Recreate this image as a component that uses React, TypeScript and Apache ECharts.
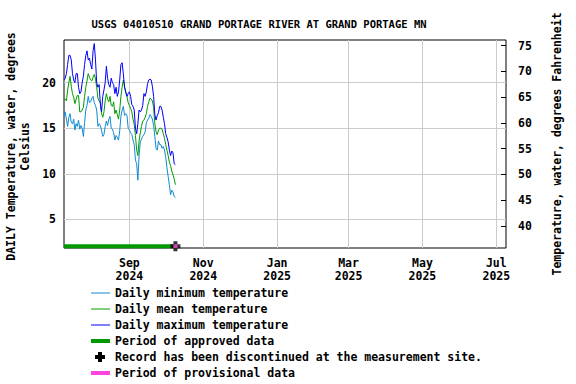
import React, { useEffect, useRef } from "react";
import * as echarts from "echarts";

const TITLE = "USGS 04010510 GRAND PORTAGE RIVER AT GRAND PORTAGE MN";
const FONT = '"DejaVu Sans Mono", monospace';

// axis window and data start (local dates)
const axisStart = "2024-07-09";
const axisEnd = "2025-07-09";
const dataStart = "2024-07-09";

// Daily temperatures, degrees Celsius
const dailyMin = [
  16.3, 16.8, 16.0, 15.2, 16.2, 16.6, 15.6, 15.5, 16.0, 14.8,
  15.5, 15.2, 15.9, 14.9, 15.3, 15.0, 14.1, 15.6, 17.0, 17.5,
  18.5, 17.8, 17.9, 18.3, 18.5, 17.8, 17.5, 17.0, 15.2, 15.5,
  15.3, 14.8, 14.1, 14.3, 15.2, 15.8, 15.3, 16.0, 16.3, 15.0,
  14.9, 14.5, 13.7, 14.2, 14.0, 13.7, 14.7, 16.3, 17.0, 17.4,
  16.4, 16.6, 16.4, 15.0, 14.8, 14.5, 14.3, 13.7, 13.2, 11.5,
  11.1, 9.3, 12.0, 13.5, 13.8, 14.1, 14.3, 14.6, 15.6, 15.9,
  16.1, 16.5, 16.3, 16.0, 15.3, 14.1, 12.8, 12.6, 13.6, 13.2,
  13.2, 12.8, 13.0, 12.6, 11.8, 10.7, 9.7, 8.8, 7.7, 8.2,
  8.0, 7.5, 7.4,
];
const dailyMean = [
  18.3, 18.2, 18.0, 19.2, 20.0, 20.7, 19.6, 18.8, 18.4, 17.7,
  18.2, 18.6, 18.6, 16.8, 16.8, 17.0, 17.3, 18.5, 19.5, 20.2,
  21.0, 20.6, 20.3, 20.2, 20.6, 20.9, 20.4, 19.5, 18.3, 18.0,
  17.8, 16.6, 16.2, 16.8, 18.0, 18.8, 18.2, 17.9, 18.5, 17.5,
  17.4, 17.9, 16.6, 17.0, 16.5, 16.0, 17.0, 18.5, 19.5, 20.3,
  19.6, 18.9, 18.5, 17.8, 17.5, 17.2, 16.8, 16.0, 15.4, 14.2,
  12.6, 12.0, 13.6, 14.5, 15.2, 15.8, 15.9, 16.2, 16.6, 17.4,
  17.9, 18.3, 18.2, 18.0, 17.3, 15.5, 14.6, 14.3, 14.8, 15.0,
  15.0, 14.9, 14.4, 13.9, 13.2, 12.6, 12.0, 11.3, 10.9, 10.3,
  9.9, 9.4, 8.8,
];
const dailyMax = [
  20.3, 20.5, 21.0, 22.0, 23.0, 23.0, 22.5, 21.0, 20.3, 20.0,
  21.0, 21.0, 19.5, 18.8, 19.0, 20.0, 20.7, 22.0, 23.0, 23.5,
  22.5, 22.7, 22.0, 21.5, 23.5, 24.3, 22.5, 20.0, 19.5, 19.8,
  17.7, 16.8, 18.5, 19.2, 20.0, 21.8, 20.5, 19.8, 19.5, 20.5,
  20.0, 19.8, 18.8, 19.5, 18.5, 19.0, 20.3, 22.0, 22.2, 21.0,
  19.5, 19.0, 18.5, 18.8, 19.0, 18.5, 17.6, 17.4, 17.0, 15.0,
  14.4, 15.5, 17.0, 16.8, 17.0, 17.5, 18.8, 18.5, 19.0, 19.9,
  20.3, 20.4, 20.3, 19.6, 18.5, 16.5, 15.9, 16.4, 16.7, 17.4,
  17.4, 17.0, 16.2, 15.5, 14.4, 14.0, 13.5, 12.6, 12.0, 12.5,
  12.3, 11.1, 11.0,
];

const xTicks = ["2024-09-01", "2024-11-01", "2025-01-01", "2025-03-01", "2025-05-01", "2025-07-01"];
const monthNames = ["Jan", "Feb", "Mar", "Apr", "May", "Jun", "Jul", "Aug", "Sep", "Oct", "Nov", "Dec"];
const celsiusTicks = [5, 10, 15, 20];
const fahrenheitTicks = [40, 45, 50, 55, 60, 65, 70, 75];
const celsiusRange = [1.85, 24.69];
const fahrenheitRange = [35.73, 76.1];
const periodLevel = 2.05;

const legendLabels = [
  "Daily minimum temperature",
  "Daily mean temperature",
  "Daily maximum temperature",
  "Period of approved data",
  "Record has been discontinued at the measurement site.",
  "Period of provisional data",
];

const COLORS = {
  min: "#118ad4",
  mean: "#009c00",
  max: "#0000ff",
  approved: "#009900",
  provisional: "#ff44dd",
  discontinued: "#000000",
};

const PLUS = "path://M3,0H7V3H10V7H7V10H3V7H0V3H3Z";

function toTime(s: string): number {
  const [y, m, d] = s.split("-").map(Number);
  return new Date(y, m - 1, d).getTime();
}

export default function App() {
  const ref = useRef<HTMLDivElement>(null);

  useEffect(() => {
    if (!ref.current) return;
    const chart = echarts.init(ref.current, undefined, { renderer: "svg" });

    const t0 = toTime(dataStart);
    const dates = dailyMean.map((_, i) => {
      const d = new Date(t0);
      d.setDate(d.getDate() + i);
      return d.getTime();
    });
    const lastDate = dates[dates.length - 1];
    const pair = (vals: number[]) => vals.map((v, i) => [dates[i], v]);
    const xTickTimes = xTicks.map(toTime);

    const legendColors = [COLORS.min, COLORS.mean, COLORS.max, COLORS.approved, null, COLORS.provisional];
    const legendWidths = [1, 1, 1, 4, 0, 4];
    const rowY = [293, 309, 325, 341, 357, 373];
    const legendGraphics: any[] = [];
    legendLabels.forEach((label, i) => {
      if (legendColors[i]) {
        legendGraphics.push({
          type: "line",
          shape: { x1: 91, y1: rowY[i], x2: 110, y2: rowY[i] },
          style: { stroke: legendColors[i], lineWidth: legendWidths[i] },
        });
      } else {
        legendGraphics.push({
          type: "polygon",
          shape: {
            points: [
              [98, 352], [102, 352], [102, 355], [105, 355], [105, 359], [102, 359],
              [102, 362], [98, 362], [98, 359], [95, 359], [95, 355], [98, 355],
            ],
          },
          style: { fill: COLORS.discontinued },
        });
      }
      legendGraphics.push({
        type: "text",
        x: 115,
        y: rowY[i],
        style: {
          text: label,
          font: `bold 11.5px ${FONT}`,
          fill: "#000",
          verticalAlign: "middle",
          align: "left",
        },
      });
    });

    chart.setOption({
      animation: false,
      backgroundColor: "#ffffff",
      title: {
        text: TITLE,
        left: 254,
        top: 13,
        textAlign: "center",
        textStyle: { fontFamily: FONT, fontSize: 10.5, fontWeight: "bold", color: "#000" },
      },
      grid: {
        left: 64,
        right: 70,
        top: 40,
        bottom: 136,
        containLabel: false,
        outerBoundsMode: "none",
        show: true,
        borderColor: "#000",
        borderWidth: 1,
        backgroundColor: "transparent",
      },
      xAxis: {
        type: "value",
        min: toTime(axisStart),
        max: toTime(axisEnd),
        axisLine: { show: false },
        axisTick: { show: false, customValues: xTickTimes },
        axisLabel: {
          customValues: xTickTimes,
          formatter: (v: number) => {
            const d = new Date(v);
            return `${monthNames[d.getMonth()]}\n${d.getFullYear()}`;
          },
          fontFamily: FONT,
          fontSize: 11.5,
          fontWeight: "bold",
          color: "#000",
          lineHeight: 13,
          margin: 8,
        },
        splitLine: { show: true, lineStyle: { color: "#cccccc", width: 1 } },
      },
      yAxis: [
        {
          type: "value",
          min: celsiusRange[0],
          max: celsiusRange[1],
          position: "left",
          axisLine: { show: false },
          axisTick: { show: false, customValues: celsiusTicks },
          axisLabel: {
            customValues: celsiusTicks,
            fontFamily: FONT,
            fontSize: 11.5,
            fontWeight: "bold",
            color: "#000",
            margin: 8,
          },
          splitLine: { show: true, lineStyle: { color: "#cccccc", width: 1 } },
          name: "DAILY Temperature, water, degrees\nCelsius",
          nameLocation: "middle",
          nameGap: 32,
          nameRotate: 90,
          nameTextStyle: {
            fontFamily: FONT,
            fontSize: 11.5,
            fontWeight: "bold",
            color: "#000",
            lineHeight: 13.3,
            align: "center",
            padding: [0, 5, 0, 0],
          },
        },
        {
          type: "value",
          min: fahrenheitRange[0],
          max: fahrenheitRange[1],
          position: "right",
          axisLine: { show: false },
          axisTick: {
            show: true,
            inside: true,
            length: 5,
            customValues: fahrenheitTicks,
            lineStyle: { color: "#000", width: 1 },
          },
          axisLabel: {
            customValues: fahrenheitTicks,
            fontFamily: FONT,
            fontSize: 11.5,
            fontWeight: "bold",
            color: "#000",
            margin: 12,
          },
          splitLine: { show: false },
          name: "Temperature, water, degrees Fahrenheit",
          nameLocation: "middle",
          nameGap: 45,
          nameRotate: 90,
          nameTextStyle: { fontFamily: FONT, fontSize: 11.5, fontWeight: "bold", color: "#000" },
        },
      ],
      series: [
        {
          name: legendLabels[0],
          type: "line",
          data: pair(dailyMin),
          showSymbol: false,
          lineStyle: { color: COLORS.min, width: 1 },
          itemStyle: { color: COLORS.min },
          z: 2,
        },
        {
          name: legendLabels[1],
          type: "line",
          data: pair(dailyMean),
          showSymbol: false,
          lineStyle: { color: COLORS.mean, width: 1 },
          itemStyle: { color: COLORS.mean },
          z: 3,
        },
        {
          name: legendLabels[2],
          type: "line",
          data: pair(dailyMax),
          showSymbol: false,
          lineStyle: { color: COLORS.max, width: 1 },
          itemStyle: { color: COLORS.max },
          z: 4,
        },
        {
          name: legendLabels[3],
          type: "line",
          data: [
            [dates[0], periodLevel],
            [lastDate, periodLevel],
          ],
          showSymbol: false,
          lineStyle: { color: COLORS.approved, width: 4 },
          itemStyle: { color: COLORS.approved },
          z: 5,
        },
        {
          name: legendLabels[4],
          type: "scatter",
          data: [[lastDate, periodLevel]],
          symbol: PLUS,
          symbolSize: 10,
          itemStyle: { color: COLORS.discontinued },
          z: 6,
        },
        {
          name: legendLabels[5],
          type: "scatter",
          data: [[lastDate, periodLevel]],
          symbol: "rect",
          symbolSize: 4,
          itemStyle: { color: COLORS.provisional },
          z: 7,
        },
      ],
      graphic: legendGraphics,
    });

    return () => chart.dispose();
  }, []);

  return (
    <div
      ref={ref}
      style={{ position: "absolute", left: 0, top: 0, width: 576, height: 384 }}
    />
  );
}
